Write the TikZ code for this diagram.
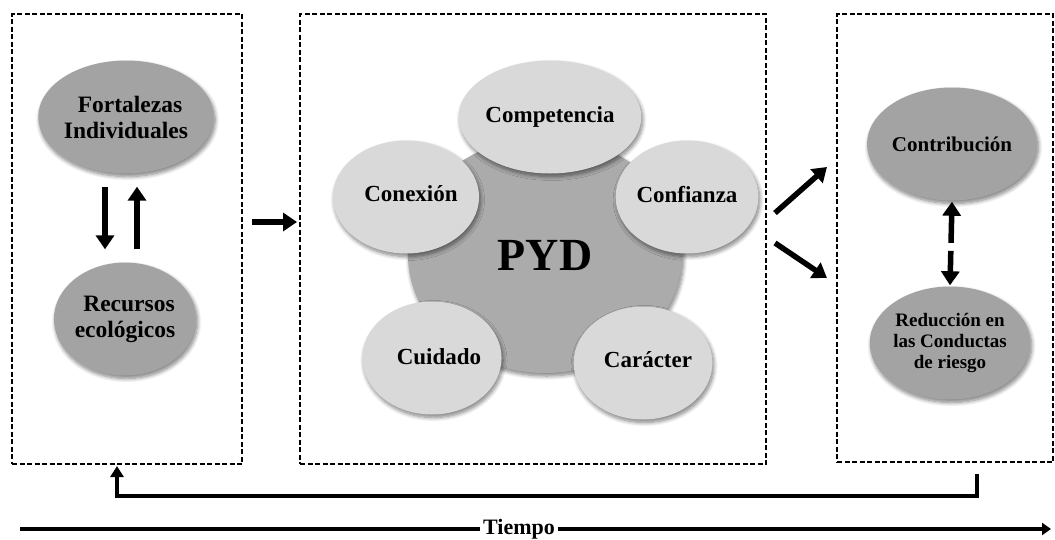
\documentclass[tikz,border=0pt]{standalone}
\usepackage{fontspec}
\setmainfont{Liberation Serif}
\usetikzlibrary{shapes.geometric,arrows.meta,shadows.blur}
\definecolor{darkball}{HTML}{A3A3A3}
\definecolor{lightball}{HTML}{D9D9D9}
\definecolor{midball}{HTML}{ABABAB}
\begin{document}
\begin{tikzpicture}[x=1pt,y=-1pt,
 dbox/.style={draw,line width=1.8pt,dash pattern=on 5pt off 2.5pt,inner sep=0pt},
 shad/.style={blur shadow={shadow xshift=1.5pt,shadow yshift=-3pt,shadow blur steps=8,shadow blur radius=4pt,shadow opacity=50}},
 dball/.style={ellipse,fill=darkball,shad,minimum width=134pt,minimum height=113pt,inner sep=0pt,align=center,font=\fontsize{23.5}{26}\selectfont\bfseries},
 lball/.style={ellipse,fill=lightball,shad,minimum width=138pt,minimum height=113pt,inner sep=0pt,align=center,font=\fontsize{23}{26}\selectfont\bfseries},
 bigarr/.style={line width=5.5pt,-{Triangle[length=14pt,width=18pt]}},
]
\useasboundingbox (0,0) rectangle (1055,539);
% boxes
\node[dbox,minimum width=230pt,minimum height=450pt] (lbox) at (127,239) {};
\node[dbox,minimum width=466pt,minimum height=450pt] (mbox) at (533,239) {};
\node[dbox,minimum width=216pt,minimum height=448pt] (rbox) at (945,238) {};
% left
\node[dball] (fort) at (126,117) {\hspace{8pt}Fortalezas\\Individuales};
\node[dball] (rec) at (125,319) {\hspace{8pt}Recursos\\ecológicos};
\draw[bigarr] ([xshift=-21pt,yshift=-13pt]fort.south) -- ([xshift=-20pt,yshift=13pt]rec.north);
\draw[bigarr] ([xshift=12pt,yshift=13pt]rec.north) -- ([xshift=11pt,yshift=-13pt]fort.south);
% left -> middle
\coordinate (a1s) at (252,222);
\coordinate (a1e) at (297,222);
\draw[bigarr] (a1s) -- (a1e);
% middle
\node[ellipse,fill=midball,shad,minimum width=274pt,minimum height=236pt,inner sep=0pt,font=\fontsize{46}{46}\selectfont\bfseries] (pyd) at (545,255) {\raisebox{-3pt}{PYD}};
\node[lball] (comp) at (550,117) {\raisebox{5pt}{Competencia}};
\node[lball] (conf) at (687,197) {\raisebox{6pt}{Confianza}};
\node[lball] (conex) at (406,197) {\raisebox{6pt}{\hspace{10pt}Conexión}};
\node[lball] (cuid) at (432,358) {\raisebox{3pt}{\hspace{14pt}Cuidado}};
\node[lball] (carac) at (643,363) {\raisebox{6pt}{\hspace{10pt}Carácter}};
% middle -> right
\coordinate (b1s) at (775,213);
\coordinate (b1e) at (827,167);
\coordinate (b2s) at (775,243);
\coordinate (b2e) at (827,278);
\draw[bigarr] (b1s) -- (b1e);
\draw[bigarr] (b2s) -- (b2e);
% right
\node[dball,font=\fontsize{21}{24}\selectfont\bfseries] (contr) at (952,144) {Contribución};
\node[dball,font=\fontsize{19}{21}\selectfont\bfseries] (red) at (950,343) {Reducción en\\las Conductas\\de riesgo};
\draw[line width=5.5pt,dash pattern=on 28pt off 8pt on 60pt off 0pt,{Triangle[length=14pt,width=18pt]}-{Triangle[length=14pt,width=18pt]}] ([yshift=-1pt]contr.south) -- ([yshift=1pt]red.north);
% feedback
\coordinate (fbs) at (977,474);
\coordinate (fbe) at (117,466);
\draw[line width=4pt,-{Triangle[length=11pt,width=13pt]}] (fbs) -- ++(0,22) -| (fbe);
% time
\node[font=\fontsize{22}{22}\selectfont\bfseries,inner sep=3pt] (tiempo) at (519,529) {Tiempo};
\coordinate (ts) at (20,529);
\coordinate (te) at (1051,529);
\draw[line width=3.5pt] (ts) -- (tiempo.west);
\draw[line width=3.5pt,-{Triangle[length=9pt,width=12pt]}] (tiempo.east) -- (te);
\end{tikzpicture}
\end{document}
